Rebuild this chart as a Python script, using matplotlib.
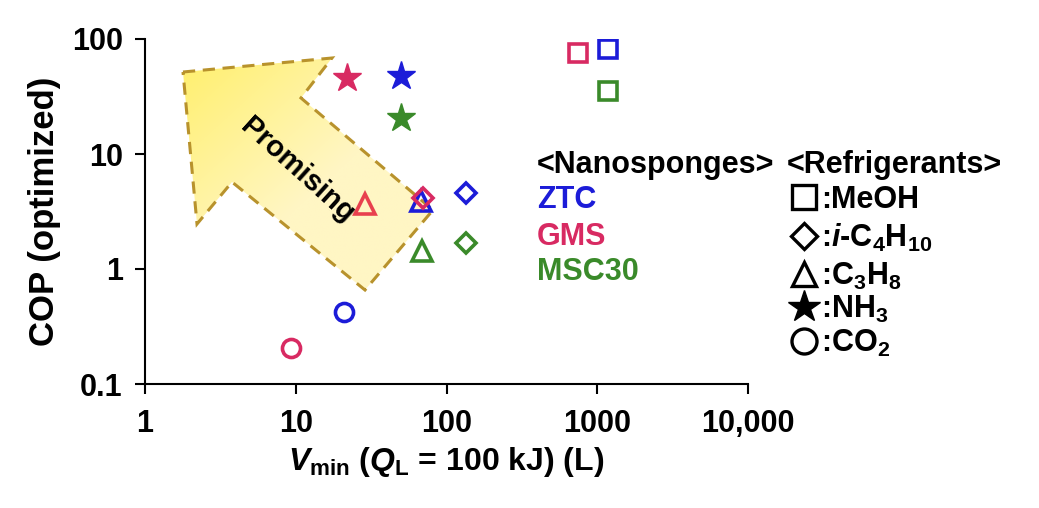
import numpy as np
import matplotlib
matplotlib.use('Agg')
import matplotlib.pyplot as plt
from matplotlib.patches import Polygon
from matplotlib.lines import Line2D

plt.rcParams['font.family'] = ['Liberation Sans', 'DejaVu Sans']
plt.rcParams['font.weight'] = 'bold'
plt.rcParams['mathtext.fontset'] = 'custom'
plt.rcParams['mathtext.rm'] = 'Liberation Sans:bold'
plt.rcParams['mathtext.it'] = 'Liberation Sans:bold:italic'
plt.rcParams['mathtext.bf'] = 'Liberation Sans:bold'

# Data: V_min (L) and optimized COP per nanosponge, per refrigerant
refrigerants = ['MeOH', 'i-C4H10', 'C3H8', 'NH3', 'CO2']
ztc_v = [1180, 135, 68, 50, 21]
ztc_cop = [82, 4.6, 3.9, 48, 0.42]
gms_v = [750, 70, 29, 22, 9.3]
gms_cop = [75, 4.15, 3.7, 46, 0.205]
msc30_v = [1180, 135, 69, 50, None]
msc30_cop = [35, 1.68, 1.44, 20.5, None]

x_ticks = [1, 10, 100, 1000, 10000]
x_labels = ['1', '10', '100', '1000', '10,000']
y_ticks = [0.1, 1, 10, 100]
y_labels = ['0.1', '1', '10', '100']

blue = '#1c1cd8'
pink = '#d82a62'
red = '#e8404e'
green = '#3a8a2a'

markers = {'MeOH': ('s', 13), 'i-C4H10': ('D', 10), 'C3H8': ('^', 14),
           'NH3': ('*', 21), 'CO2': ('o', 13)}

fig = plt.figure(figsize=(10.39, 5.08), dpi=100)
pos = [145 / 1039, 124 / 508, 603 / 1039, 345 / 508]

# background axes for the "Promising" arrow
bg = fig.add_axes(pos)
bg.set_xlim(0, 1)
bg.set_ylim(0, 1)
bg.axis('off')

def to_ax(px, py):
    return ((px - 145) / 603, (384 - py) / 345)

arrow_px = [(183, 72), (332, 58), (301, 98), (433, 210), (365, 290), (232, 182), (197, 224)]
arrow_pts = [to_ax(*p) for p in arrow_px]
poly = Polygon(arrow_pts, closed=True, facecolor='none', edgecolor='#b8922c',
               linestyle=(0, (4, 2.5)), linewidth=2.2, zorder=3)
bg.add_patch(poly)
gx, gy = np.meshgrid(np.linspace(0, 1, 200), np.linspace(0, 1, 200))
t = np.clip((gx + gy) * 0.9, 0, 1)
c0 = np.array([255, 238, 90]) / 255
c1 = np.array([255, 246, 196]) / 255
img = c0[None, None, :] * (1 - t[..., None]) + c1[None, None, :] * t[..., None]
im = bg.imshow(img, extent=[0, 0.5, 0.2, 1], origin='upper', aspect='auto', zorder=1)
im.set_clip_path(poly)
tx, ty = to_ax(297, 170)
bg.text(tx, ty, 'Promising', rotation=-42, ha='center', va='center',
        fontsize=21, fontweight='bold', zorder=4)

ax = fig.add_axes(pos)
ax.patch.set_alpha(0)
ax.set_xscale('log')
ax.set_yscale('log')
ax.set_xlim(1, 10000)
ax.set_ylim(0.1, 100)

series = [(ztc_v, ztc_cop, blue), (gms_v, gms_cop, pink), (msc30_v, msc30_cop, green)]
for vs, cops, col in series:
    for name, v, c in zip(refrigerants, vs, cops):
        if v is None:
            continue
        m, ms = markers[name]
        color = red if (col == pink and name == 'C3H8') else col
        if name == 'NH3':
            ax.plot(v, c, m, ms=ms, color=color, mec=color)
        else:
            ax.plot(v, c, m, ms=ms, mfc='none', mec=color, mew=2.6)

ax.set_xticks(x_ticks, x_labels)
ax.set_yticks(y_ticks, y_labels)
ax.minorticks_off()
ax.tick_params(labelsize=22, width=1.5, length=7)
ax.tick_params(axis='x', pad=11)
ax.tick_params(axis='y', pad=9)
for s in ['top', 'right']:
    ax.spines[s].set_visible(False)
for s in ['left', 'bottom']:
    ax.spines[s].set_linewidth(1.5)
ax.set_ylabel('COP (optimized)', fontsize=25, fontweight='bold', labelpad=8)
ax.set_xlabel(r'$V_{\mathrm{min}}$ ($Q_{\mathrm{L}}$ = 100 kJ) (L)', fontsize=23,
              fontweight='bold', labelpad=4)

# legends as text, placed by baseline
def ftext(px, py, s, color='black', **kw):
    fig.text(px / 1039, 1 - (py + 11) / 508, s, color=color, fontsize=22,
             fontweight='bold', va='baseline', ha='left', **kw)

ftext(537, 162, '<Nanosponges>')
ftext(537, 197, 'ZTC', blue)
ftext(537, 234, 'GMS', pink)
ftext(537, 269, 'MSC30', green)
ftext(787, 162, '<Refrigerants>')
ref_labels = [':MeOH', r':$i$-C$_4$H$_{10}$', ':C$_3$H$_8$', ':NH$_3$', ':CO$_2$']
ref_y = [197, 236, 274, 307, 341]
for name, lab, py in zip(refrigerants, ref_labels, ref_y):
    m, ms = markers[name]
    size = {'s': 17, 'D': 13, '^': 17, '*': 24, 'o': 18}[m]
    if m == '*':
        ln = Line2D([804 / 1039], [1 - py / 508], marker=m, ms=size, color='black',
                    transform=fig.transFigure)
    else:
        ln = Line2D([804 / 1039], [1 - py / 508], marker=m, ms=size, mfc='none',
                    mec='black', mew=2.4, transform=fig.transFigure)
    fig.add_artist(ln)
    ftext(821, py, lab)

fig.savefig('out.png', dpi=100)
